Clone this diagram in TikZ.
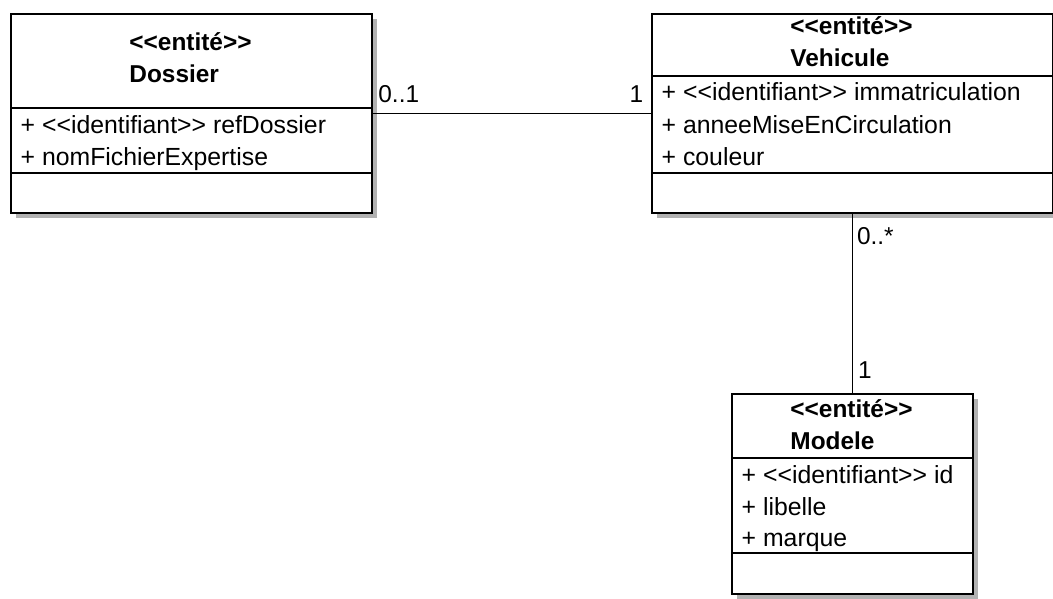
\documentclass[tikz,border=0pt]{standalone}
\usepackage{fontspec}
\setmainfont{Liberation Sans}
\usepackage{tikz}
\usetikzlibrary{shadows}
\newcommand{\stereo}[1]{<\kern0pt<#1>\kern0pt>}

\begin{document}
\begin{tikzpicture}[x=1pt,y=-1pt,
  classbox/.style={draw,line width=1.6pt,fill=white,anchor=north west,inner sep=0pt,
    drop shadow={shadow xshift=5pt,shadow yshift=-5pt,fill=black!30,opacity=1}},
  title/.style={font=\fontsize{24.4}{32}\selectfont\bfseries,align=left,inner sep=0pt},
  attr/.style={font=\fontsize{24.8}{32}\selectfont,anchor=base west,inner sep=0pt},
  mult/.style={font=\fontsize{24.4}{32}\selectfont,inner sep=0pt}]
\useasboundingbox (0,0) rectangle (1053,598);

\node[classbox,minimum width=361pt,minimum height=199pt] (dossier) at (10,13) {};
\node[classbox,minimum width=401pt,minimum height=199pt] (vehicule) at (651,13) {};
\node[classbox,minimum width=241pt,minimum height=200pt] (modele) at (731,393) {};

\draw[line width=1.6pt] (dossier.west |- 0,108)--(dossier.east |- 0,108);
\draw[line width=1.6pt] (dossier.west |- 0,173)--(dossier.east |- 0,173);
\draw[line width=1.6pt] (vehicule.west |- 0,76)--(vehicule.east |- 0,76);
\draw[line width=1.6pt] (vehicule.west |- 0,173)--(vehicule.east |- 0,173);
\draw[line width=1.6pt] (modele.west |- 0,458)--(modele.east |- 0,458);
\draw[line width=1.6pt] (modele.west |- 0,553)--(modele.east |- 0,553);

\node[title] (dossier-title) at (190.5,57.6) {\stereo{entité}\\Dossier};
\node[title] (vehicule-title) at (851.5,42) {\stereo{entité}\\Vehicule};
\node[title] (modele-title) at (851.5,424.5) {\stereo{entité}\\Modele};

\node[attr] (dossier-a1) at (20.5,133.6) {+ \stereo{identifiant} refDossier};
\node[attr] (dossier-a2) at (20.5,165.6) {+ nomFichierExpertise};
\node[attr] (vehicule-a1) at (661.5,100.6) {+ \stereo{identifiant} immatriculation};
\node[attr] (vehicule-a2) at (661.5,133.6) {+ anneeMiseEnCirculation};
\node[attr] (vehicule-a3) at (661.5,165.6) {+ couleur};
\node[attr] (modele-a1) at (741.5,483.6) {+ \stereo{identifiant} id};
\node[attr] (modele-a2) at (741.5,515.6) {+ libelle};
\node[attr] (modele-a3) at (741.5,546.6) {+ marque};

\draw[line width=1.6pt] (dossier)--(vehicule)
  node[mult,pos=0,anchor=base west,xshift=5pt,yshift=11pt] (m-dossier) {0..1}
  node[mult,pos=1,anchor=base east,xshift=-7pt,yshift=11pt] (m-vehicule1) {1};
\draw[line width=1.6pt] (vehicule)--(modele)
  node[mult,pos=0,anchor=base west,xshift=4pt,yshift=-31pt] (m-vehicule2) {0..*}
  node[mult,pos=1,anchor=base west,xshift=5pt,yshift=15pt] (m-modele) {1};
\end{tikzpicture}
\end{document}
